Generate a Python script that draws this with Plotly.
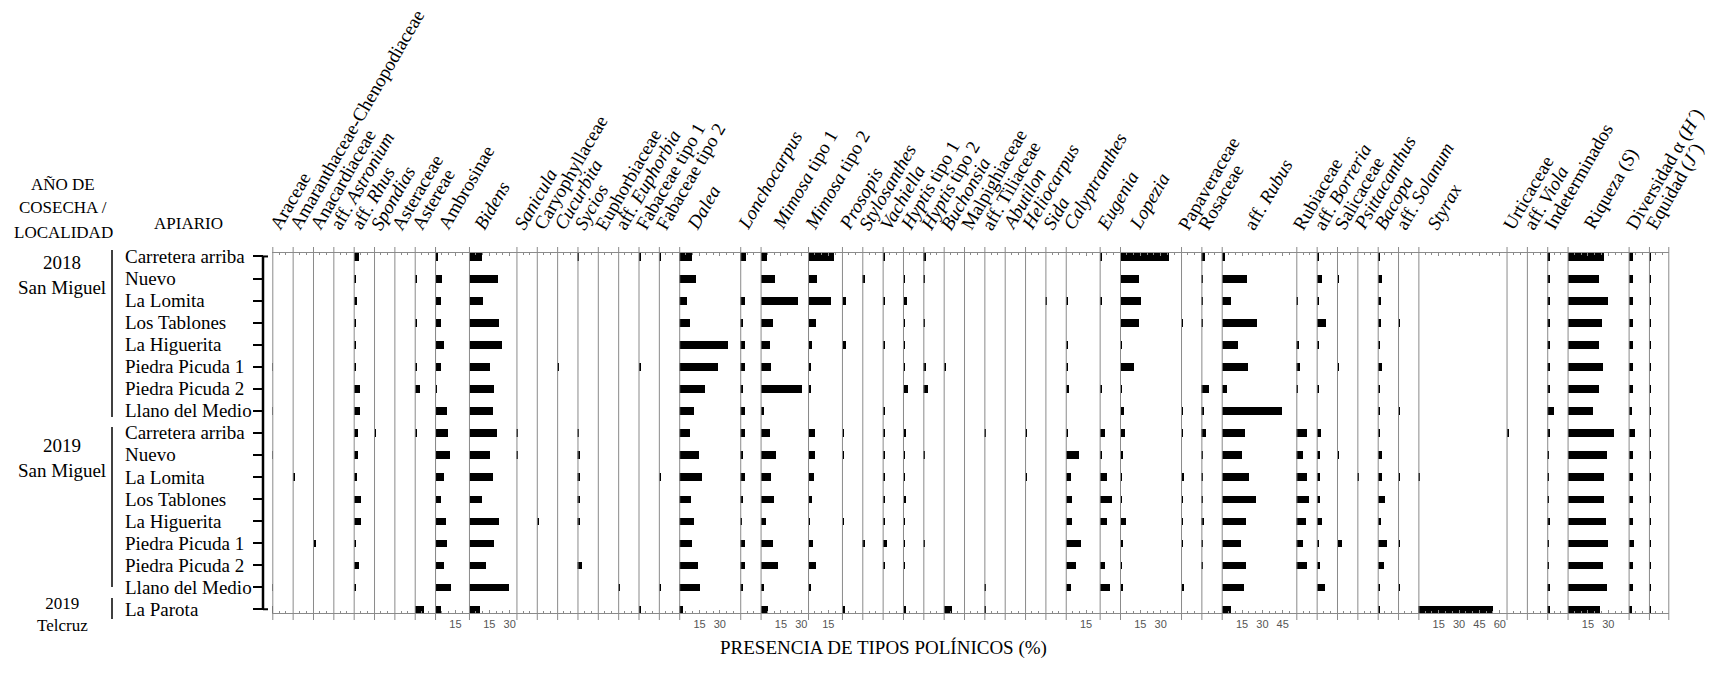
import plotly.graph_objects as go

W, H = 1709, 689

apiarios = ["Carretera arriba", "Nuevo", "La Lomita", "Los Tablones", "La Higuerita",
            "Piedra Picuda 1", "Piedra Picuda 2", "Llano del Medio",
            "Carretera arriba", "Nuevo", "La Lomita", "Los Tablones", "La Higuerita",
            "Piedra Picuda 1", "Piedra Picuda 2", "Llano del Medio", "La Parota"]

taxa = ["Araceae", "Amaranthaceae-Chenopodiaceae", "Anacardiaceae", "aff. <i>Astronium</i>",
        "aff. <i>Rhus</i>", "<i>Spondias</i>", "Asteraceae", "Astereae", "Ambrosinae",
        "<i>Bidens</i>", "<i>Sanicula</i>", "Caryophyllaceae", "<i>Cucurbita</i>", "<i>Sycios</i>",
        "Euphorbiaceae", "aff. <i>Euphorbia</i>", "Fabaceae tipo 1", "Fabaceae tipo 2",
        "<i>Dalea</i>", "<i>Lonchocarpus</i>", "<i>Mimosa</i> tipo 1", "<i>Mimosa</i> tipo 2",
        "<i>Prosopis</i>", "<i>Stylosanthes</i>", "<i>Vachiella</i>", "<i>Hyptis</i> tipo 1",
        "<i>Hyptis</i> tipo 2", "<i>Buchonsia</i>", "Malpighiaceae", "aff. Tiliaceae",
        "<i>Abutilon</i>", "<i>Heliocarpus</i>", "<i>Sida</i>", "<i>Calyptranthes</i>",
        "<i>Eugenia</i>", "<i>Lopezia</i>", "Papaveraceae", "Rosaceae", "aff. <i>Rubus</i>",
        "Rubiaceae", "aff. <i>Borreria</i>", "Salicaceae", "<i>Psittacanthus</i>", "<i>Bacopa</i>",
        "aff. <i>Solanum</i>", "<i>Styrax</i>", "Urticaceae", "aff. <i>Viola</i>", "Indeterminados",
        "Riqueza (<i>S</i>)", "Diversidad α (<i>H´</i>)", "Equidad (<i>J´</i>)"]

# axis maximum of each panel
ranges = [15, 15, 15, 15, 15, 15, 15, 15, 25, 35, 15, 15, 15, 15, 15, 15, 15, 15, 45, 15, 35, 25,
          15, 15, 15, 15, 15, 15, 15, 15, 15, 15, 15, 25, 15, 45, 15, 15, 55, 15, 15, 15, 15, 15,
          15, 65, 15, 15, 15, 45, 15, 15]

tick_values = [15, 30, 45, 60]

araceae = [0, 0, 0, 0, 0, 0.7, 0, 0.7, 0, 0.7, 0, 0, 0, 0, 0, 0.7, 0.7]
amaranthaceae = [0, 0, 0, 0, 0, 0, 0, 0, 0, 0, 1.0, 0, 0, 0, 0, 0, 0]
anacardiaceae = [0, 0, 0, 0, 0, 0, 0, 0, 0, 0, 0, 0, 0, 2.5, 0, 0, 0]
astronium = [0] * 17
rhus = [3.7, 1.5, 2, 1, 1, 1, 4.5, 4.5, 3, 3, 2.5, 5.5, 5.5, 1, 3.7, 1, 0]
spondias = [0, 0, 0, 0, 0, 0, 0, 0, 1.5, 0, 0, 0, 0, 0, 0, 0, 0]
asteraceae = [0] * 17
astereae = [0, 1, 0, 1, 0, 1, 4, 0, 1, 0, 0, 0, 0, 0, 0, 0, 7]
ambrosinae = [2.5, 5.4, 4.2, 4.2, 7, 4.2, 1.5, 9, 9.8, 11, 7, 4.6, 8.3, 9, 6.4, 11.8, 4.6]
bidens = [9.8, 21.6, 10.5, 22.3, 24.5, 15.7, 18.4, 17.6, 20.3, 15.7, 17.6, 9.8, 22.3, 18.4, 12.5, 29.4, 7.8]
sanicula = [0, 0, 0, 0, 0, 0, 0, 0, 1, 1, 0, 0, 0, 0, 0, 0, 0]
caryophyllaceae = [0, 0, 0, 0, 0, 0, 0, 0, 0, 0, 0, 0, 1, 0, 0, 0, 0]
cucurbita = [0, 0, 0, 0, 0, 1.5, 0, 0, 0, 0, 0, 0, 0, 0, 0, 0, 0]
sycios = [1, 0, 0, 0, 0, 0, 0, 0, 1.5, 2, 2, 2, 2.5, 0, 3.4, 0, 0]
euphorbiaceae = [0] * 17
euphorbia = [0, 0, 0, 0, 0, 0, 0, 0, 0, 0, 0, 0, 0, 0, 0, 1, 0]
fabaceae1 = [1, 0, 0, 0, 0, 1.5, 0, 0, 0, 0, 0, 0, 0, 0, 0, 0, 1]
fabaceae2 = [1, 0, 0, 0, 0, 0, 0, 0, 0, 0, 1, 0, 0, 0, 0, 1, 0]
dalea = [9.6, 12.3, 5.9, 7.8, 36, 28.7, 19.4, 11, 8.3, 15, 17, 9, 11, 9.6, 14.2, 15.7, 3]
lonchocarpus = [4.4, 0, 3.9, 2, 3.9, 3.4, 2.5, 3.9, 3.4, 2.5, 3.4, 2, 1.2, 3.9, 3.4, 2, 0]
mimosa1 = [4.4, 10.3, 27.5, 9, 6.4, 7.6, 30, 2, 6.4, 11, 7.1, 9.8, 3.7, 9, 12.3, 2, 4.9]
mimosa2 = [18.9, 6.9, 17.3, 5.6, 3.2, 2.5, 2.5, 0, 5.1, 5.1, 4.4, 3.2, 1.2, 3.7, 5.6, 2.5, 0]
prosopis = [0, 0, 3, 0, 3, 0, 0, 0, 1.7, 1.2, 0, 0, 1.7, 0, 0, 0, 2.5]
stylosanthes = [0, 2, 0, 0, 0, 0, 0, 0, 0, 0, 0, 0, 0, 2.5, 0, 0, 0]
vachiella = [1, 0, 1, 0, 1, 0, 0, 1, 1.7, 1, 1.7, 1.7, 1, 3.2, 1, 0, 0]
hyptis1 = [0, 1, 3.2, 1, 1.7, 1, 3.7, 0, 2.2, 1, 1, 2.2, 1, 1, 1, 0, 2.2]
hyptis2 = [2.5, 1.2, 0, 1.2, 0, 2, 3.7, 0, 0, 1.2, 0, 0, 0, 1.2, 0, 0, 0]
buchonsia = [0, 0, 0, 0, 0, 1.5, 0, 0, 0, 0, 0, 0, 0, 0, 0, 0, 5.6]
malpighiaceae = [0] * 17
tiliaceae = [0, 0, 0, 0, 0, 0, 0, 0, 1, 0, 0, 0, 0, 0, 0, 1, 1]
abutilon = [0] * 17
heliocarpus = [0, 0, 0, 0, 0, 0, 0, 0, 1.2, 0, 1.2, 0, 0, 0, 0, 0, 0]
sida = [0, 0, 1.5, 0, 0, 0, 0, 0, 0, 0, 0, 0, 0, 0, 0, 0, 0]
calyptranthes = [0, 0, 1, 0, 1, 1, 2.2, 0, 1.7, 9.3, 3.4, 4.6, 4.2, 11.3, 7.3, 3.4, 0]
eugenia = [1.7, 0, 1.2, 0, 0, 0, 1.2, 0, 3.7, 1.2, 4.9, 9, 4.9, 0, 3.7, 7.3, 0]
lopezia = [36, 14.2, 15.2, 13.7, 1.7, 10.3, 1.2, 3.2, 3.7, 2.5, 1.2, 1.7, 4.4, 2, 1.2, 2.5, 0]
papaveraceae = [0, 0, 0, 1.2, 0, 0, 0, 1.2, 1.2, 0, 2, 1.2, 1.2, 1.2, 0, 2.5, 0]
rosaceae = [3, 1.2, 1.2, 1.2, 0, 0, 5.6, 2, 3.4, 1.2, 1.2, 1.2, 2, 1.2, 1.2, 0, 0]
rubus = [2.5, 18.4, 6.6, 25.7, 11.8, 19.1, 3.7, 44.6, 16.7, 14.7, 19.6, 25, 17.9, 14, 17.9, 16.4, 6.6]
rubiaceae = [0, 0, 1, 0, 2.5, 2.9, 1, 0, 7.8, 5.4, 7.8, 9.8, 7.4, 4.9, 8.3, 0, 0]
borreria = [1.2, 3.7, 1.7, 6.4, 1.2, 0, 1.7, 0, 2.9, 2.5, 2, 2.5, 3.7, 1.2, 2.5, 5.6, 0]
salicaceae = [0, 1.2, 0, 0, 0, 1.5, 0, 0, 0, 1.5, 0, 0, 0, 3.4, 0, 0, 0]
psittacanthus = [0, 0, 0, 0, 0, 0, 0, 0, 0, 0, 1.5, 0, 0, 0, 0, 0, 0]
bacopa = [1.2, 3.2, 2.5, 2.5, 1.2, 3.2, 1.2, 1.2, 1.7, 3.2, 3.2, 4.9, 2.5, 6.6, 4.4, 1.2, 1.7]
solanum = [0, 0, 0, 1.2, 0, 0, 0, 1.2, 0, 0, 1.2, 0, 0, 1.2, 0, 1.2, 0]
styrax = [0, 0, 0, 0, 0, 0, 0, 0, 0, 0, 1.7, 0, 0, 0, 0, 0, 55.1]
urticaceae = [0, 0, 0, 0, 0, 0, 0, 0, 1.5, 0, 0, 0, 0, 0, 0, 0, 0]
viola = [0] * 17
indeterminados = [2, 2.5, 2, 2.5, 2, 2, 2.5, 4.9, 2, 1.2, 1.2, 1.2, 2.5, 1.2, 1.2, 2.5, 2.5]
riqueza = [26.7, 23, 29.7, 25, 23, 25.7, 23, 18.4, 33.6, 28.7, 26.7, 26.7, 27.7, 29.7, 25.7, 28.9, 23.5]
diversidad = [3.2, 3.2, 3.2, 3.2, 3.2, 3.2, 3.2, 2.5, 4.2, 3.2, 3.2, 3.2, 3.2, 3.7, 3.2, 3.2, 2.0]
equidad = [0.9, 0.9, 0.9, 0.9, 0.9, 0.9, 0.9, 0.9, 0.9, 0.9, 0.9, 0.9, 0.9, 0.9, 0.9, 0.9, 0.9]

series = [araceae, amaranthaceae, anacardiaceae, astronium, rhus, spondias, asteraceae, astereae,
          ambrosinae, bidens, sanicula, caryophyllaceae, cucurbita, sycios, euphorbiaceae, euphorbia,
          fabaceae1, fabaceae2, dalea, lonchocarpus, mimosa1, mimosa2, prosopis, stylosanthes,
          vachiella, hyptis1, hyptis2, buchonsia, malpighiaceae, tiliaceae, abutilon, heliocarpus,
          sida, calyptranthes, eugenia, lopezia, papaveraceae, rosaceae, rubus, rubiaceae, borreria,
          salicaceae, psittacanthus, bacopa, solanum, styrax, urticaceae, viola, indeterminados,
          riqueza, diversidad, equidad]

# ---------------- layout ----------------
# the page body margin is removed (post_script below), so page px == figure px


def px(x):
    return x / W


def py(y):
    return 1 - y / H


PX0 = 272.3          # left edge of first panel (px)
SCALE = 1.3563       # px per unit
label_offsets = {8: 6, 9: 8, 18: 11, 20: 15, 35: 12, 38: 25, 45: 12, 49: 19}
SERIF = "Liberation Serif"
GRAY = "#8a8a8a"

rows = list(range(len(apiarios)))
fig = go.Figure()
shapes, annotations = [], []
layout = {}
left = PX0
for i, (name, rng, vals) in enumerate(zip(taxa, ranges, series)):
    n = i + 1
    xa = "x" if n == 1 else f"x{n}"
    key = "xaxis" if n == 1 else f"xaxis{n}"
    right = left + rng * SCALE
    fig.add_trace(go.Bar(x=vals, y=rows, orientation="h", xaxis=xa, yaxis="y",
                         marker=dict(color="black", line=dict(width=0)), width=0.35,
                         showlegend=False, hoverinfo="skip"))
    tv = [t for t in tick_values if t < rng]
    layout[key] = dict(domain=[px(left), px(right)], range=[0, rng], anchor="y",
                       showgrid=False, zeroline=False, showline=True, linecolor=GRAY,
                       linewidth=1, mirror="ticks", ticks="inside", ticklen=3, tickcolor=GRAY,
                       tickvals=tv, ticktext=[str(t) for t in tv],
                       tickfont=dict(family="Liberation Sans", size=11, color="#555"),
                       minor=dict(dtick=5, ticks="inside", ticklen=2, tickcolor=GRAY),
                       fixedrange=True)
    shapes.append(dict(type="line", xref=xa, yref="paper", x0=0, x1=0,
                       y0=py(620), y1=py(247), line=dict(color=GRAY, width=2)))
    annotations.append(dict(text=name, xref=xa, x=0, yref="paper", y=py(236),
                            xanchor="left", yanchor="bottom", textangle=-60,
                            xshift=label_offsets.get(i, 0) - 10, showarrow=False,
                            font=dict(family=SERIF, size=19, color="black")))
    if n == len(taxa):
        shapes.append(dict(type="line", xref=xa, yref="paper", x0=rng, x1=rng,
                           y0=py(620), y1=py(247), line=dict(color=GRAY, width=2)))
    left = right

# apiary axis (black bracket)
AX = px(263)
shapes.append(dict(type="line", xref="paper", yref="y", x0=AX, x1=AX, y0=0, y1=16,
                   line=dict(color="black", width=2.5)))
for yy in (0, 16):
    shapes.append(dict(type="line", xref="paper", yref="y", x0=AX, x1=px(268), y0=yy, y1=yy,
                       line=dict(color="black", width=2)))

for i, name in enumerate(apiarios):
    annotations.append(dict(text=name, xref="paper", x=px(123), yref="y", y=i,
                            xanchor="left", yanchor="middle", showarrow=False,
                            font=dict(family=SERIF, size=19, color="black")))

# group labels
groups = [("2018<br>San Miguel", 275.5, 19), ("2019<br>San Miguel", 457.5, 19),
          ("2019<br>Telcruz", 614, 17)]
for txt, ypx, fs in groups:
    annotations.append(dict(text=txt, xref="paper", x=px(62), yref="paper", y=py(ypx),
                            xanchor="center", yanchor="middle", showarrow=False,
                            font=dict(family=SERIF, size=fs, color="black")))
for y0, y1 in [(250, 417), (427, 587), (598, 619)]:
    shapes.append(dict(type="line", xref="paper", yref="paper", x0=px(112), x1=px(112),
                       y0=py(y0), y1=py(y1), line=dict(color="black", width=1.5)))

for txt, xpx, ypx in [("AÑO DE", 63, 184), ("COSECHA /", 63, 208), ("LOCALIDAD", 63, 232),
                      ("APIARIO", 188, 223)]:
    annotations.append(dict(text=txt, xref="paper", x=px(xpx), yref="paper", y=py(ypx),
                            xanchor="center", yanchor="middle", showarrow=False,
                            font=dict(family=SERIF, size=17, color="black")))

annotations.append(dict(text="PRESENCIA DE TIPOS POLÍNICOS (%)", xref="paper", x=px(883),
                        yref="paper", y=py(648), xanchor="center", yanchor="middle",
                        showarrow=False, font=dict(family=SERIF, size=19, color="black")))

layout["yaxis"] = dict(domain=[py(613.3), py(252.7)], range=[16.18, -0.17],
                       anchor="free", position=AX, tickmode="array", tickvals=rows,
                       ticks="outside", ticklen=10, tickwidth=2, tickcolor="black",
                       showticklabels=False, showline=False, showgrid=False, zeroline=False,
                       fixedrange=True)

fig.update_layout(width=W, height=H, autosize=False, margin=dict(l=0, r=0, t=0, b=0),
                  paper_bgcolor="white", plot_bgcolor="white", bargap=0,
                  shapes=shapes, annotations=annotations, **layout)
fig.write_html("out.html", config={"displayModeBar": False},
               post_script="document.body.style.margin='0px';"
                           "document.body.style.overflow='hidden';")
